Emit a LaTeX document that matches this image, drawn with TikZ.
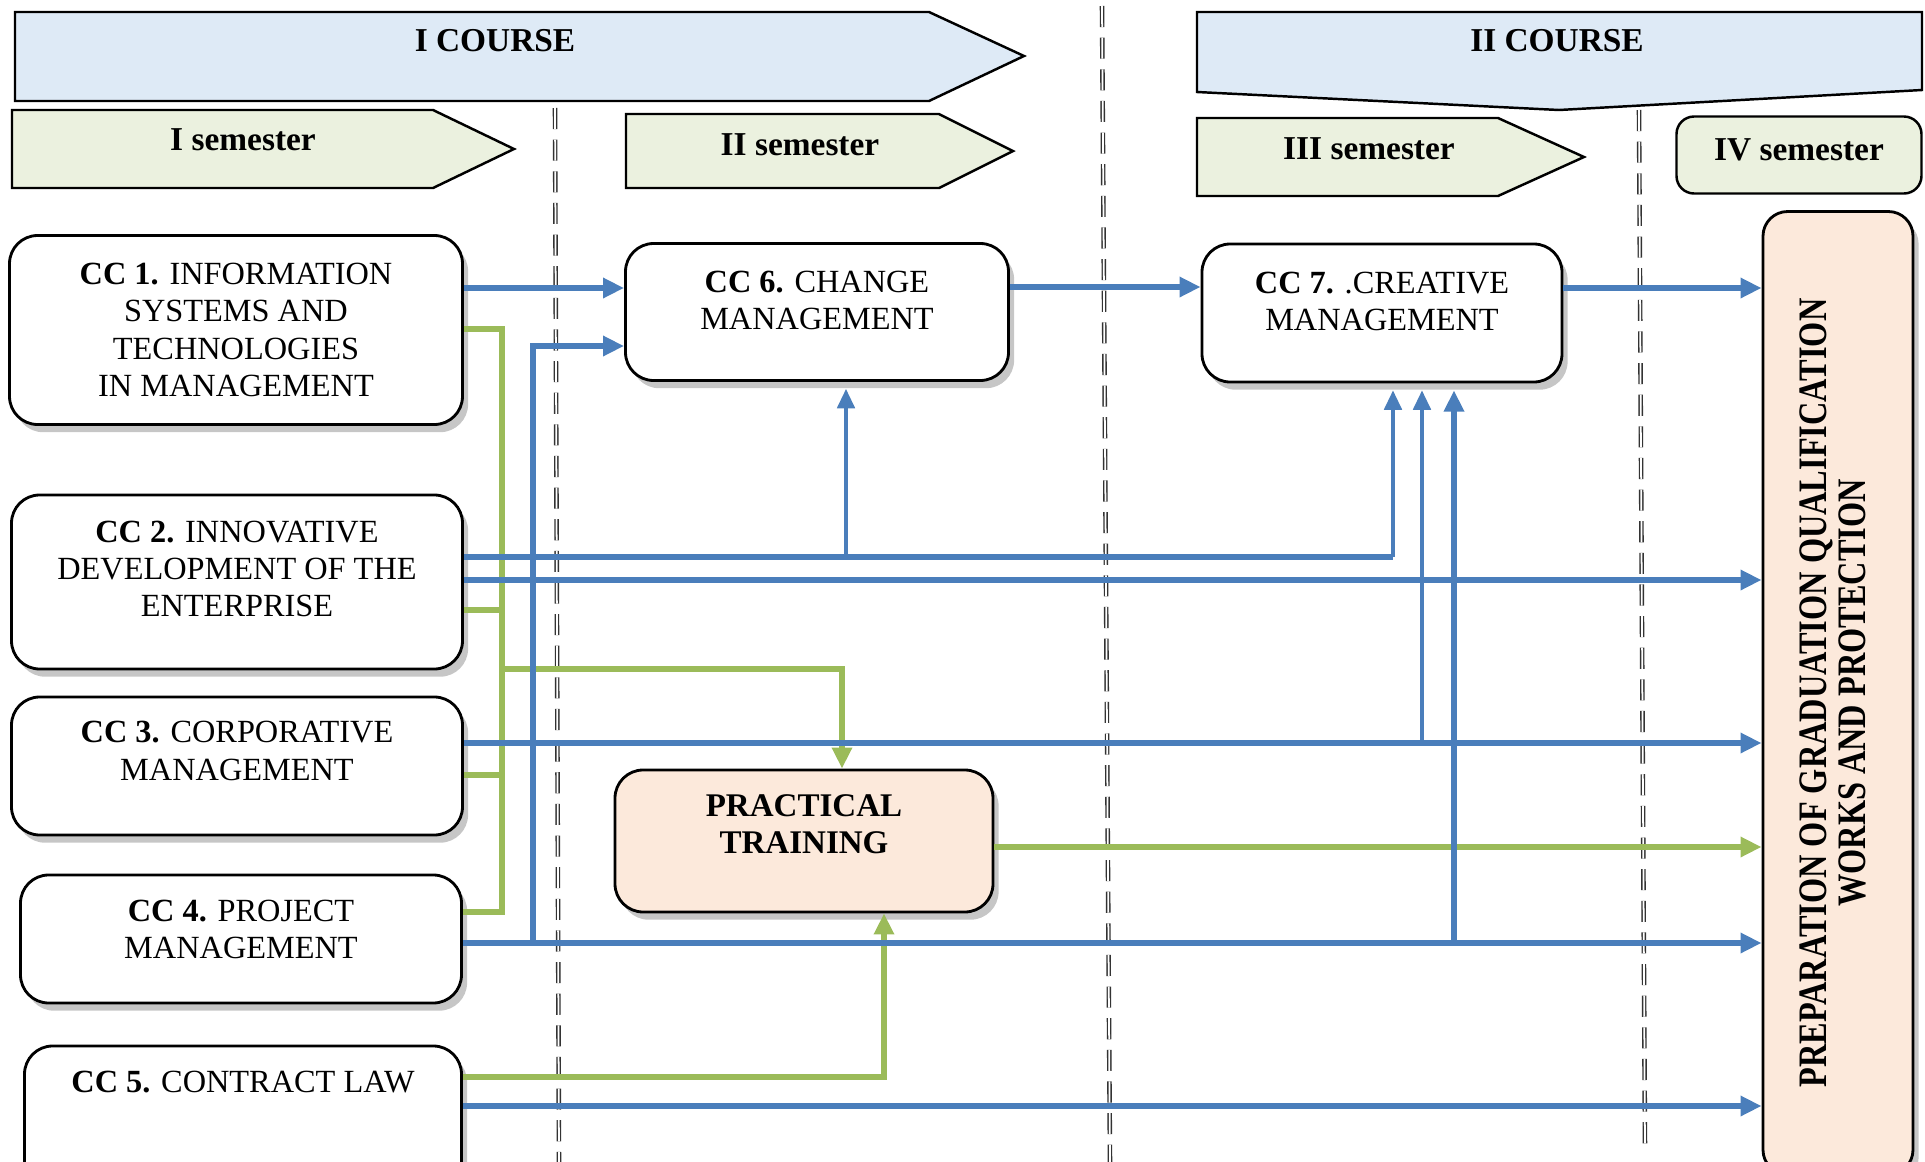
\documentclass[tikz,border=0pt]{standalone}
\usepackage{fontspec}
\setmainfont{Liberation Serif}
\usepackage{graphicx}
\usetikzlibrary{arrows.meta,shadows,calc}
\definecolor{CourseBg}{HTML}{DEEAF6}
\definecolor{SemesterBg}{HTML}{EBF1DF}
\definecolor{PeachBg}{HTML}{FCE9DB}
\definecolor{LinkBlue}{HTML}{4A7EBB}
\definecolor{LinkGreen}{HTML}{9BBB59}
\definecolor{SepGray}{HTML}{333333}
\newcommand{\liftby}[1]{\\[#1]\mbox{}}
\newcommand{\squeezetext}[1]{\scalebox{.8}[1]{#1}}

\begin{document}
\begin{tikzpicture}[x=0.1mm, y=-0.1mm, font=\fontsize{9.2}{10.6}\selectfont,
    ccbox/.style={draw, line width=.8pt, rounded corners=8pt, fill=white, align=center, inner sep=1pt,
      drop shadow={shadow xshift=1.6pt, shadow yshift=-2.2pt, fill=black!50, opacity=.45}},
    banner/.style={draw, line width=.7pt},
    bannertext/.style={font=\fontsize{9.5}{11}\selectfont\bfseries},
    separator/.style={draw=SepGray, line width=.4pt, double=white, double distance=.5pt, dash pattern=on 6pt off 3pt},
    blueline/.style={draw=LinkBlue, line width=1.6pt},
    bluelink/.style={blueline, -{Triangle[length=6pt, width=5.5pt]}},
    bluethin/.style={draw=LinkBlue, line width=.9pt, -{Triangle[length=5.5pt, width=5pt]}, shorten >=2pt},
    greenline/.style={draw=LinkGreen, line width=1.8pt},
    greenlink/.style={greenline, -{Triangle[length=6pt, width=5.5pt]}}]

  \useasboundingbox (0,0) rectangle (1925,1162);
  \clip (0,0) rectangle (1925,1162);

  % course and semester banners
  \draw[banner, fill=CourseBg] (15,12) -- (929,12) -- (1024,56) -- (929,101) -- (15,101) -- cycle;
  \draw[banner, fill=CourseBg] (1197,12) -- (1922,12) -- (1922,90) -- (1559,110) -- (1197,92) -- cycle;
  \draw[banner, fill=SemesterBg] (12,110) -- (433,110) -- (514,149) -- (433,188) -- (12,188) -- cycle;
  \draw[banner, fill=SemesterBg] (626,114) -- (939,114) -- (1013,151) -- (939,188) -- (626,188) -- cycle;
  \draw[banner, fill=SemesterBg] (1197,118) -- (1498,118) -- (1584,157) -- (1498,196) -- (1197,196) -- cycle;
  \node[bannertext] (course1) at (495,41) {I COURSE};
  \node[bannertext] (course2) at (1557,41) {II COURSE};
  \node[bannertext] (sem1) at (243,140) {I semester};
  \node[bannertext] (sem2) at (800,145) {II semester};
  \node[bannertext] (sem3) at (1369,149) {III semester};
  \node[banner, bannertext, align=center, fill=SemesterBg, rounded corners=5pt, minimum width=24.5mm, minimum height=7.7mm] (sem4) at (1799,155) {IV semester\liftby{-8pt}};

  % semester borders
  \draw[separator] (555,108) -- (559,1162);
  \draw[separator] (1102,6) -- (1110,1162);
  \draw[separator] (1639,110) -- (1645,1148);

  % disciplines
  \node[ccbox, minimum width=45.3mm, minimum height=18.9mm] (cc1) at (236,330) {\textbf{CC 1.} INFORMATION\\SYSTEMS AND\\TECHNOLOGIES\\IN MANAGEMENT};
  \node[ccbox, minimum width=45.1mm, minimum height=17.4mm] (cc2) at (237,582) {\textbf{CC 2.} INNOVATIVE\\DEVELOPMENT OF THE\\ENTERPRISE\liftby{-3pt}};
  \node[ccbox, minimum width=45.1mm, minimum height=13.8mm] (cc3) at (237,766) {\textbf{CC 3.} CORPORATIVE\\MANAGEMENT\liftby{-2pt}};
  \node[ccbox, minimum width=44.1mm, minimum height=12.8mm] (cc4) at (241,939) {\textbf{CC 4.} PROJECT\\MANAGEMENT\liftby{-5pt}};
  \node[ccbox, minimum width=43.7mm, minimum height=14.4mm] (cc5) at (243,1118) {\textbf{CC 5.} CONTRACT LAW\liftby{10pt}};
  \node[ccbox, minimum width=38.3mm, minimum height=13.7mm] (cc6) at (817,312) {\textbf{CC 6.} CHANGE\\MANAGEMENT\liftby{-4pt}};
  \node[ccbox, minimum width=36mm, minimum height=13.8mm] (cc7) at (1382,313) {\textbf{CC 7.} .CREATIVE\\MANAGEMENT\liftby{-4pt}};
  \node[ccbox, fill=PeachBg, minimum width=37.8mm, minimum height=14.2mm, font=\fontsize{9.4}{10.6}\selectfont\bfseries] (train) at (804,841) {PRACTICAL\\TRAINING\liftby{-1pt}};
  \node[ccbox, fill=PeachBg, rounded corners=7pt, minimum width=15mm, minimum height=96.3mm] (final) at (1838,693) {\rotatebox{90}{\fontsize{11.5}{11}\selectfont\bfseries
    \begin{tabular}{@{}c@{}}\squeezetext{PREPARATION OF GRADUATION QUALIFICATION}\\\squeezetext{WORKS AND PROTECTION}\end{tabular}}};

  % green links
  \coordinate (gtop) at (502,329);
  \coordinate (gmid) at (502,669);
  \coordinate (gbot) at (502,912);
  \draw[greenline] (cc1.east |- gtop) -- (gtop) -- (gbot) -- (cc4.east |- gbot);
  \draw[greenline] (cc2.east |- 0,610) -- (gtop |- 0,610);
  \draw[greenline] (cc3.east |- 0,775) -- (gtop |- 0,775);
  \draw[greenlink] (gmid) -| ([xshift=3.8mm]train.north);
  \draw[greenlink] (cc5.east |- 0,1077) -| ([xshift=8mm]train.south);
  \draw[greenlink] (train.east |- 0,847) -- (final.west |- 0,847);

  % blue links
  \coordinate (j6a) at (846,557);
  \coordinate (j7a) at (1393,557);
  \coordinate (j7b) at (1422,743);
  \coordinate (j7c) at (1454,943);
  \coordinate (j6b) at (533,943);
  \draw[bluelink] (cc1.east |- 0,288) -- (cc6.west |- 0,288);
  \draw[bluelink] (cc6.east |- 0,287) -- (cc7.west |- 0,287);
  \draw[bluelink] (cc7.east |- 0,288) -- (final.west |- 0,288);
  \draw[blueline] (cc2.east |- j7a) -- (j7a);
  \draw[bluethin] (j6a) -- (j6a |- cc6.south);
  \draw[bluethin] (j7a) -- (j7a |- cc7.south);
  \draw[bluelink] (cc2.east |- 0,580) -- (final.west |- 0,580);
  \draw[bluelink] (cc3.east |- j7b) -- (final.west |- j7b);
  \draw[bluethin] (j7b) -- (j7b |- cc7.south);
  \draw[bluelink] (cc4.east |- j6b) -- (final.west |- j6b);
  \draw[bluelink] (j6b) |- (cc6.west |- 0,346);
  \draw[bluelink, shorten >=2pt] (j7c) -- (j7c |- cc7.south);
  \draw[bluelink] (cc5.east |- 0,1106) -- (final.west |- 0,1106);
\end{tikzpicture}
\end{document}
